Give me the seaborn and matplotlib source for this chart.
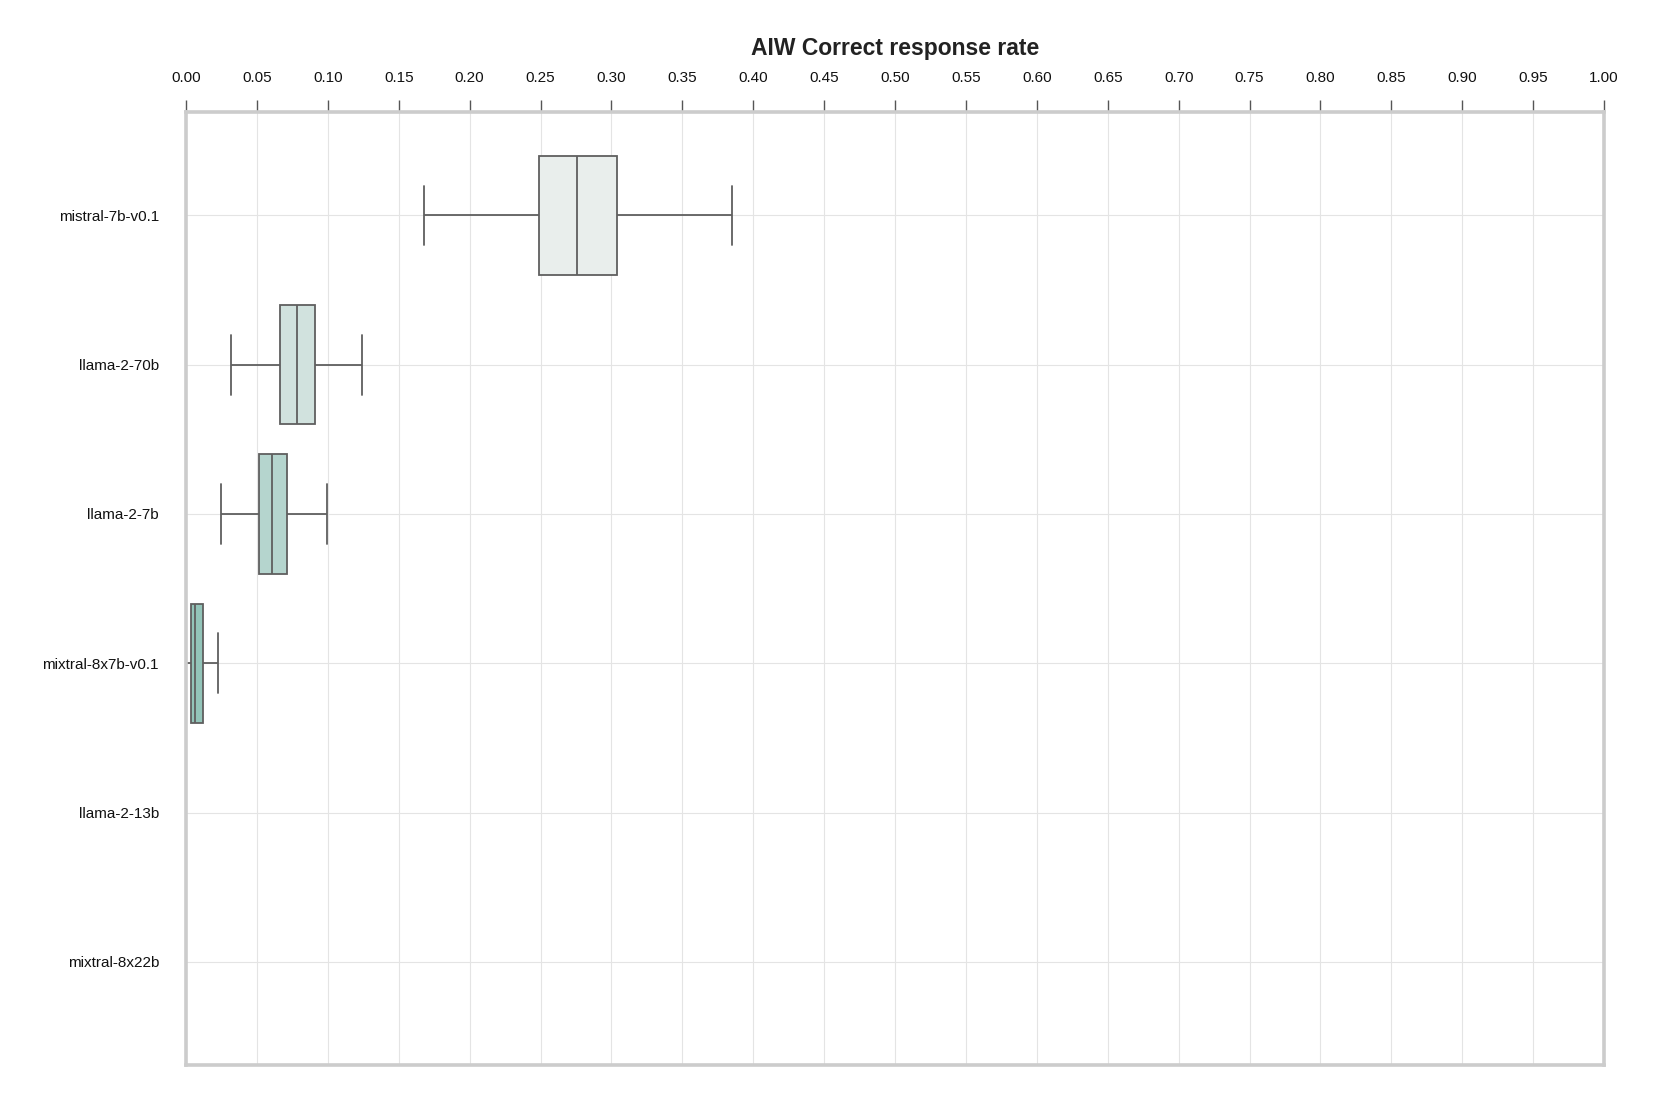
import numpy as np
import pandas as pd
import seaborn as sns
import matplotlib.pyplot as plt

# per-model response rates (five-number summaries)
models = ["mistral-7b-v0.1", "llama-2-70b", "llama-2-7b",
          "mixtral-8x7b-v0.1", "llama-2-13b", "mixtral-8x22b"]
mistral_7b = [0.1675, 0.2490, 0.2755, 0.3038, 0.3852]
llama_70b = [0.0316, 0.0666, 0.0786, 0.0907, 0.1238]
llama_7b = [0.0246, 0.0513, 0.0607, 0.0711, 0.0994]
mixtral_8x7b = [0.0, 0.0035, 0.0064, 0.0118, 0.0228]
llama_13b = [0.0, 0.0, 0.0, 0.0, 0.0]
mixtral_8x22b = [0.0, 0.0, 0.0, 0.0, 0.0]
box_colors = ["#E9EEEC", "#D1E2DE", "#B5D5CE", "#93C4B9", "#74B5A7", "#58A796"]
x_ticks = np.arange(0, 1.0001, 0.05)

series = [mistral_7b, llama_70b, llama_7b, mixtral_8x7b, llama_13b, mixtral_8x22b]
df = pd.DataFrame({
    "model": np.repeat(models, [len(s) for s in series]),
    "rate": np.concatenate(series),
})

sns.set_theme(style="whitegrid")
plt.rcParams["font.family"] = ["Liberation Sans", "DejaVu Sans"]

fig, ax = plt.subplots(figsize=(16.61, 11.07), dpi=100)
fig.subplots_adjust(left=0.112, right=0.9657, top=0.8985, bottom=0.038)

sns.boxplot(data=df, x="rate", y="model", hue="model", order=models,
            palette=box_colors, saturation=1, whis=(0, 100), width=0.8,
            linecolor="#5f5f5f", linewidth=1.3, legend=False, ax=ax)

ax.set_xlim(0, 1)
ax.set_ylim(5.69, -0.69)
ax.set_xticks(x_ticks)
ax.set_xticklabels([f"{t:.2f}" for t in x_ticks])
ax.xaxis.tick_top()
ax.xaxis.set_label_position("top")
ax.tick_params(axis="x", which="major", top=True, bottom=False, length=8.5,
               width=1, color="#555555", labelsize=11, pad=11, labelcolor="#111111")
ax.tick_params(axis="y", length=0, labelsize=11, pad=19.5, labelcolor="#111111")
ax.set_xlabel("")
ax.set_ylabel("")
ax.grid(True, color="#E4E4E4", linewidth=0.8)
for sp in ax.spines.values():
    sp.set_visible(True)
    sp.set_color("#CCCCCC")
    sp.set_linewidth(2.6)

ax.set_title("AIW Correct response rate", fontsize=16.5, fontweight="bold",
             color="#222222", pad=12)

fig.savefig("out.png", dpi=100, facecolor="white")
